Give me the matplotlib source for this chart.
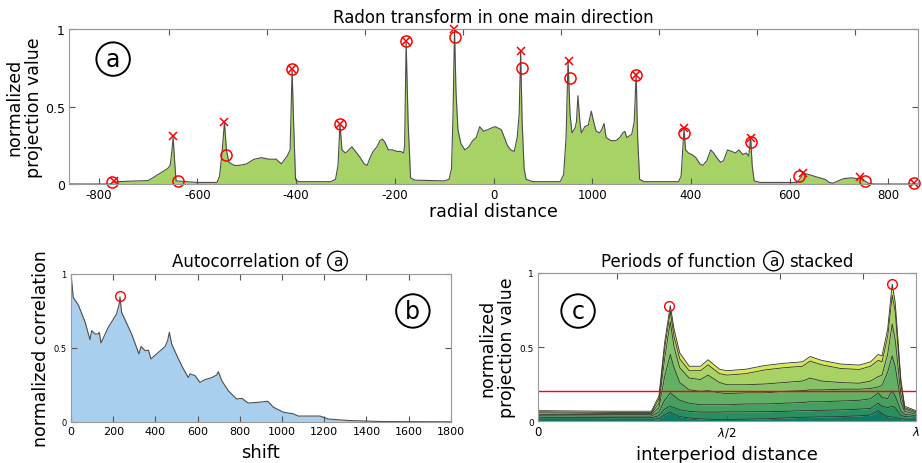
import matplotlib
matplotlib.use("Agg")
import matplotlib.pyplot as plt
import numpy as np

plt.rcParams['font.family'] = ['DejaVu Sans', 'Noto Sans CJK JP']

# ---- panel a: radon projection profile ----
radial = [-860, -775, -772, -760, -740, -720, -700, -690, -680, -670, -660, -655, -652, -649, -646, -643,
          -600, -560, -555, -550, -545, -541, -536, -525, -515, -500, -485, -470, -455, -440, -430, -425,
          -418, -412, -408, -405, -401, -395, -330, -320, -315, -311, -307, -300, -293, -287, -282, -277,
          -270, -262, -256, -250, -244, -236, -230, -225, -220, -213, -205, -195, -188, -182, -180, -177,
          -173, -168, -160, -100, -90, -85, -82, -79, -76, -72, -66, -58, -50, -42, -35, -28, -20, -12,
          -5, 3, 10, 16, 22, 28, 35, 42, 48, 52, 55, 58, 62, 66, 80, 135, 142, 147, 151, 155, 159, 165,
          168, 171, 175, 178, 185, 192, 198, 203, 208, 215, 219, 224, 228, 238, 248, 256, 262, 266, 270,
          280, 285, 289, 292, 296, 305, 375, 380, 383, 386, 389, 395, 402, 410, 418, 424, 432, 440, 446,
          452, 460, 466, 474, 483, 490, 497, 505, 512, 517, 521, 524, 528, 540, 615, 622, 628, 640, 650,
          660, 672, 680, 688, 698, 710, 725, 735, 745, 752, 760, 770, 860]
projection = [0, 0, 0.012, 0.015, 0.018, 0.02, 0.022, 0.04, 0.06, 0.08, 0.10, 0.12, 0.20, 0.30, 0.15, 0.02,
              0.01, 0.01, 0.05, 0.20, 0.40, 0.22, 0.14, 0.12, 0.12, 0.13, 0.16, 0.17, 0.16, 0.16, 0.13, 0.15,
              0.18, 0.22, 0.74, 0.40, 0.03, 0.015, 0.015, 0.03, 0.12, 0.39, 0.22, 0.20, 0.22, 0.24, 0.22, 0.20,
              0.17, 0.13, 0.12, 0.17, 0.21, 0.24, 0.28, 0.29, 0.27, 0.22, 0.22, 0.21, 0.21, 0.20, 0.25, 0.92,
              0.40, 0.04, 0.025, 0.02, 0.03, 0.10, 0.45, 1.00, 0.60, 0.35, 0.26, 0.22, 0.24, 0.28, 0.30, 0.37, 0.34, 0.35,
              0.36, 0.37, 0.36, 0.35, 0.30, 0.25, 0.22, 0.21, 0.30, 0.45, 0.86, 0.40, 0.10, 0.03, 0.015, 0.015, 0.06, 0.30, 0.80, 0.45, 0.33, 0.36,
              0.40, 0.57, 0.40, 0.33, 0.37, 0.38, 0.47, 0.40, 0.34, 0.33, 0.35, 0.39, 0.30, 0.28, 0.28, 0.30, 0.33, 0.34, 0.30,
              0.32, 0.40, 0.71, 0.30, 0.03, 0.015, 0.015, 0.05, 0.20, 0.36, 0.22, 0.20, 0.19, 0.17, 0.13, 0.12, 0.15, 0.22, 0.20,
              0.17, 0.14, 0.15, 0.22, 0.21, 0.20, 0.22, 0.19, 0.20, 0.18, 0.30, 0.12, 0.02, 0.01, 0.01, 0.04, 0.07, 0.06, 0.05,
              0.04, 0.03, 0.01, 0.005, 0.02, 0.035, 0.04, 0.035, 0.04, 0.02, 0.005, 0, 0]

cross_d = [-769, -650, -545, -408, -311, -177, -80, 55, 152, 288, 386, 521, 627, 742, 851]
cross_v = [0.02, 0.31, 0.40, 0.74, 0.39, 0.92, 1.0, 0.856, 0.795, 0.703, 0.36, 0.295, 0.07, 0.043, 0.006]
ring_d = [-773, -639, -541, -408, -311, -177, -79, 57, 154, 288, 386, 521, 618, 753, 851]
ring_v = [0.01, 0.02, 0.19, 0.74, 0.39, 0.92, 0.95, 0.75, 0.684, 0.703, 0.33, 0.27, 0.05, 0.02, 0.006]

xtick_pos = [-800, -600, -400, -200, 0, 200, 400, 600, 800]
xtick_lab = ['-800', '-600', '-400', '-200', '0', '1000', '400', '600', '800']

# ---- panel b: autocorrelation ----
shift = [0, 11, 35, 67, 90, 98, 114, 130, 134, 142, 177, 216, 229, 232, 240, 287, 322, 332, 351, 367, 379,
         414, 446, 458, 466, 477, 509, 532, 556, 564, 588, 611, 635, 667, 690, 698, 714, 746, 785, 809, 840,
         888, 932, 959, 1006, 1054, 1077, 1180, 1219, 1314, 1472, 1800]
corr = [1.0, 0.84, 0.79, 0.674, 0.556, 0.617, 0.595, 0.595, 0.606, 0.534, 0.64, 0.73, 0.80, 0.845, 0.74,
        0.595, 0.46, 0.51, 0.482, 0.485, 0.426, 0.47, 0.51, 0.55, 0.606, 0.527, 0.426, 0.36, 0.30, 0.325,
        0.313, 0.268, 0.286, 0.30, 0.317, 0.34, 0.28, 0.21, 0.155, 0.16, 0.128, 0.133, 0.14, 0.10, 0.066,
        0.055, 0.04, 0.04, 0.02, 0.01, 0.003, 0.001]
corr_peak = (232, 0.85)

# ---- panel c: stacked periods (cumulative boundaries, bottom to top) ----
t = [0, 0.1, 0.2, 0.3, 0.32, 0.335, 0.35, 0.36, 0.375, 0.4, 0.43, 0.45, 0.48, 0.5, 0.55, 0.6, 0.65, 0.7,
     0.72, 0.75, 0.8, 0.85, 0.88, 0.9, 0.91, 0.925, 0.937, 0.945, 0.96, 0.97, 1.0]
b1 = [0.012, 0.012, 0.012, 0.012, 0.015, 0.04, 0.06, 0.045, 0.03, 0.02, 0.015, 0.012, 0.01, 0.01, 0.012,
      0.015, 0.02, 0.025, 0.026, 0.028, 0.03, 0.035, 0.04, 0.07, 0.05, 0.03, 0.027, 0.025, 0.015, 0.012, 0.012]
b2 = [0.025, 0.024, 0.023, 0.023, 0.035, 0.08, 0.10, 0.09, 0.075, 0.065, 0.06, 0.06, 0.06, 0.062, 0.062,
      0.063, 0.065, 0.07, 0.07, 0.072, 0.075, 0.08, 0.085, 0.12, 0.10, 0.09, 0.10, 0.09, 0.04, 0.03, 0.025]
b3 = [0.035, 0.034, 0.033, 0.033, 0.06, 0.14, 0.19, 0.17, 0.14, 0.12, 0.11, 0.11, 0.11, 0.11, 0.115,
      0.115, 0.12, 0.125, 0.13, 0.13, 0.135, 0.14, 0.15, 0.19, 0.16, 0.15, 0.205, 0.17, 0.07, 0.045, 0.035]
b4 = [0.045, 0.044, 0.043, 0.043, 0.09, 0.30, 0.45, 0.36, 0.26, 0.21, 0.20, 0.205, 0.19, 0.185, 0.19,
      0.19, 0.20, 0.205, 0.21, 0.21, 0.215, 0.215, 0.22, 0.23, 0.24, 0.33, 0.44, 0.37, 0.13, 0.065, 0.045]
b5 = [0.055, 0.053, 0.051, 0.051, 0.12, 0.42, 0.67, 0.50, 0.36, 0.29, 0.28, 0.31, 0.26, 0.245, 0.245,
      0.25, 0.26, 0.27, 0.29, 0.27, 0.26, 0.255, 0.27, 0.30, 0.31, 0.45, 0.655, 0.55, 0.18, 0.08, 0.055]
b6 = [0.062, 0.060, 0.058, 0.058, 0.15, 0.49, 0.74, 0.57, 0.42, 0.34, 0.34, 0.38, 0.32, 0.31, 0.32,
      0.345, 0.36, 0.37, 0.405, 0.38, 0.355, 0.348, 0.37, 0.41, 0.40, 0.57, 0.85, 0.74, 0.25, 0.09, 0.062]
b7 = [0.070, 0.068, 0.066, 0.066, 0.17, 0.53, 0.78, 0.62, 0.46, 0.37, 0.37, 0.414, 0.35, 0.34, 0.35,
      0.375, 0.39, 0.40, 0.436, 0.41, 0.385, 0.378, 0.40, 0.45, 0.44, 0.62, 0.925, 0.80, 0.28, 0.10, 0.07]
layer_colors = ['#0f7a62', '#2a8f5e', '#45a060', '#62b064', '#85c268', '#a8d264', '#d6e85a']
period_peaks_t = [0.347, 0.937]
period_peaks_v = [0.78, 0.925]
threshold = 0.2

spine_col = '#999999'
W, H = 922, 464


def style(ax, fs):
    for s in ax.spines.values():
        s.set_color(spine_col)
        s.set_linewidth(0.8)
    ax.tick_params(direction='in', length=4, width=0.8, color='#555555', labelsize=fs,
                   right=True, pad=3)


def circled(ax, x, y, s):
    ax.text(x, y, s, transform=ax.transAxes, fontsize=17, ha='center', va='center',
            bbox=dict(boxstyle='circle,pad=0.2', fc='white', ec='black', lw=1.4))


def fig_text(x, y, s, **kw):
    # x, y in picture pixels from the top-left corner
    fig.text(x / W, 1 - y / H, s, va='center', fontsize=12, **kw)


def title_circle(x, y):
    fig.text(x / W, 1 - y / H, 'a', ha='center', va='center', fontsize=11,
             bbox=dict(boxstyle='circle,pad=0.15', fc='white', ec='black', lw=1.0))


fig = plt.figure(figsize=(9.22, 4.64), dpi=100)

# panel a
ax1 = fig.add_axes([0.0748, 0.6013, 0.9209, 0.334])
ax1.fill_between(radial, projection, color='#a6d266', lw=0)
ax1.plot(radial, projection, color='#4d4d4d', lw=0.8)
ax1.plot(cross_d, cross_v, 'x', color='red', ms=6, mew=1.1, clip_on=False)
ax1.plot(ring_d, ring_v, 'o', mfc='none', mec='red', ms=8, mew=1.1, clip_on=False)
ax1.set_xlim(-860, 860)
ax1.set_ylim(0, 1)
ax1.set_xticks(xtick_pos)
ax1.set_xticklabels(xtick_lab)
ax1.set_yticks([0, 0.5, 1])
ax1.set_yticklabels(['0', '0.5', '1'])
style(ax1, 8.5)
ax1.tick_params(axis='y', labelsize=9)
sec = ax1.secondary_xaxis('top')
sec.set_xticks([-658 + 198.5 * k for k in range(8)])
sec.set_xticklabels([])
sec.tick_params(direction='in', length=4, color='#555555')
sec.spines['top'].set_color(spine_col)
ax1.set_title('Radon transform in one main direction', fontsize=12, pad=5)
ax1.set_xlabel('radial distance', fontsize=12.5)
ax1.xaxis.set_label_coords(0.5, -0.115)
ax1.set_ylabel('normalized\nprojection value', fontsize=12.5, linespacing=1.1)
ax1.yaxis.set_label_coords(-0.031, 0.5)
circled(ax1, 0.052, 0.806, 'a')

# panel b
ax2 = fig.add_axes([0.077, 0.0884, 0.412, 0.319])
ax2.fill_between(shift, corr, color='#a9cfee', lw=0)
ax2.plot(shift, corr, color='#4d4d4d', lw=0.8)
ax2.plot([corr_peak[0]], [corr_peak[1]], 'o', mfc='none', mec='red', ms=7, mew=1.0)
ax2.set_xlim(0, 1800)
ax2.set_ylim(0, 1)
ax2.set_xticks(range(0, 1801, 200))
ax2.set_yticks([0, 0.5, 1])
ax2.set_yticklabels(['0', '0.5', '1'])
style(ax2, 8)
ax2.tick_params(axis='y', labelsize=6)
ax2.tick_params(top=True)
fig_text(320.7, 262, 'Autocorrelation of', ha='right')
title_circle(337.5, 262)
ax2.set_xlabel('shift', fontsize=13)
ax2.xaxis.set_label_coords(0.5, -0.14)
ax2.set_ylabel('normalized correlation', fontsize=12.5)
ax2.yaxis.set_label_coords(-0.055, 0.5)
circled(ax2, 0.90, 0.75, 'b')

# panel c
ax3 = fig.add_axes([0.5835, 0.0905, 0.41, 0.319])
bounds = [np.zeros(len(t)), b1, b2, b3, b4, b5, b6, b7]
for i in range(7):
    ax3.fill_between(t, bounds[i], bounds[i + 1], color=layer_colors[i], lw=0)
for i in range(1, 8):
    ax3.plot(t, bounds[i], color='#333333', lw=0.6)
ax3.axhline(threshold, color='red', lw=1.0)
ax3.plot(period_peaks_t, period_peaks_v, 'o', mfc='none', mec='red', ms=7, mew=1.0)
ax3.set_xlim(0, 1)
ax3.set_ylim(0, 1)
ax3.set_xticks([0, 0.5, 1])
ax3.set_xticklabels(['0', r'$\lambda$/2', r'$\lambda$'])
ax3.set_yticks([0, 0.5, 1])
ax3.set_yticklabels(['0', '0.5', '1'])
style(ax3, 8.5)
ax3.tick_params(axis='y', labelsize=6.5)
sec3 = ax3.secondary_xaxis('top')
sec3.set_xticks([0.208, 0.64, 0.86])
sec3.set_xticklabels([])
sec3.tick_params(direction='in', length=4, color='#555555')
sec3.spines['top'].set_color(spine_col)
fig_text(756, 262, 'Periods of function', ha='right')
title_circle(773.5, 262)
fig_text(789, 262, 'stacked', ha='left')
ax3.set_xlabel('interperiod distance', fontsize=13)
ax3.xaxis.set_label_coords(0.5, -0.16)
ax3.set_ylabel('normalized\nprojection value', fontsize=12.5, linespacing=1.1)
ax3.yaxis.set_label_coords(-0.058, 0.5)
circled(ax3, 0.106, 0.743, 'c')

fig.savefig('out.png', dpi=100)
